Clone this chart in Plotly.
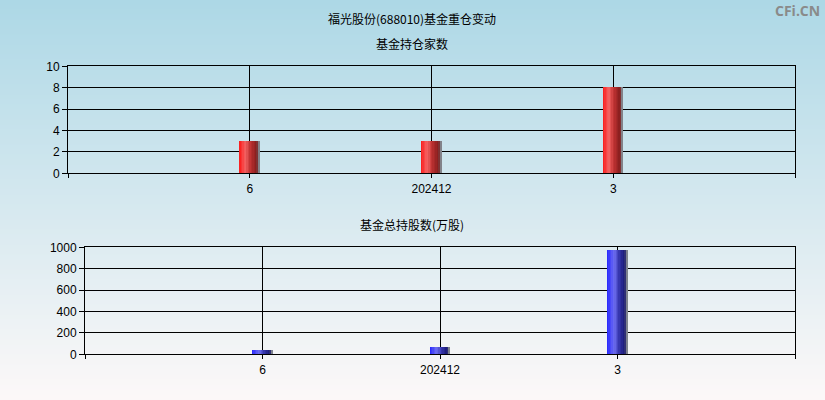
import plotly.graph_objects as go

categories = ["6", "202412", "3"]
fund_counts = [3, 3, 8]
fund_shares = [40, 68, 975]

W, H = 825, 400

def interp(stops, t):
    for (t0, c0), (t1, c1) in zip(stops, stops[1:]):
        if t0 <= t <= t1:
            f = (t - t0) / (t1 - t0) if t1 > t0 else 0
            return "rgb(%d,%d,%d)" % tuple(round(a + (b - a) * f) for a, b in zip(c0, c1))
    return "rgb(%d,%d,%d)" % stops[-1][1]

red_stops = [(0, (250, 25, 25)), (0.3, (245, 100, 100)), (0.55, (190, 50, 50)), (0.88, (130, 28, 28)), (0.93, (120, 110, 115)), (1, (140, 150, 160))]
blue_stops = [(0, (35, 35, 255)), (0.35, (110, 110, 240)), (0.6, (55, 55, 175)), (0.88, (25, 25, 115)), (0.93, (110, 110, 125)), (1, (140, 150, 160))]

fig = go.Figure()
xpos = list(range(1, len(categories) + 1))
N = 14

def add_bars(vals, stops, bw, xa, ya):
    w = bw / N
    for i in range(N):
        fig.add_trace(go.Bar(
            x=xpos, y=vals, width=[w] * len(vals), offset=-bw / 2 + i * w,
            marker=dict(color=interp(stops, (i + 0.5) / N), line=dict(width=0)),
            xaxis=xa, yaxis=ya, showlegend=False,
            hoverinfo="y" if i == N // 2 else "skip",
        ))

add_bars(fund_counts, red_stops, 20 / 182, "x", "y")
add_bars(fund_shares, blue_stops, 20 / 177.5, "x2", "y2")

# background gradient
shapes = []
nb = 80
top, bot = (173, 216, 230), (252, 248, 248)
for i in range(nb):
    t = i / (nb - 1)
    c = tuple(round(a + (b - a) * t) for a, b in zip(top, bot))
    shapes.append(dict(type="rect", xref="paper", yref="paper", x0=0, x1=1,
                       y0=1 - (i + 1) / nb, y1=1 - i / nb + 0.001,
                       fillcolor="rgb(%d,%d,%d)" % c, line=dict(width=0), layer="below"))

tickfont = dict(family="Liberation Sans, Arial", size=12, color="#000")
tv = [0] + xpos + [len(categories) + 1]
tt = [""] + categories + [""]

def xaxis(domain, anchor):
    return dict(domain=domain, anchor=anchor, range=[0, len(categories) + 1], tickvals=tv, ticktext=tt,
                showgrid=True, gridcolor="#000", gridwidth=1, showline=True, linecolor="#000",
                mirror=True, ticks="outside", ticklen=4, tickcolor="#000", tickfont=tickfont,
                zeroline=False, fixedrange=True, automargin=False)

def yaxis(domain, anchor, rng, dtick):
    return dict(domain=domain, anchor=anchor, range=rng, dtick=dtick, showgrid=True, gridcolor="#000",
                gridwidth=1, showline=True, linecolor="#000", mirror=True, ticks="outside", ticklen=5,
                tickcolor="#000", tickfont=tickfont, zeroline=False, fixedrange=True, automargin=False)

cjk = dict(family="Noto Sans CJK SC", size=12, color="#000")

fig.update_layout(
    width=W, height=H, margin=dict(l=0, r=0, t=0, b=0, pad=0, autoexpand=False),
    paper_bgcolor="rgba(0,0,0,0)", plot_bgcolor="rgba(0,0,0,0)",
    barmode="overlay", bargap=0, showlegend=False,
    xaxis=xaxis([68 / W, 795 / W], "y"),
    yaxis=yaxis([1 - 173.3 / H, 1 - 66.3 / H], "x", [0, 10], 2),
    xaxis2=xaxis([85 / W, 795 / W], "y2"),
    yaxis2=yaxis([1 - 354.3 / H, 1 - 247.3 / H], "x2", [0, 1000], 200),
    shapes=shapes,
    annotations=[
        dict(text="福光股份(688010)基金重仓变动", x=412 / W, y=1 - 18 / H, xref="paper", yref="paper",
             yanchor="middle", showarrow=False, font=cjk),
        dict(text="基金持仓家数", x=412 / W, y=1 - 43 / H, xref="paper", yref="paper",
             yanchor="middle", showarrow=False, font=cjk),
        dict(text="基金总持股数(万股)", x=412 / W, y=1 - 224 / H, xref="paper", yref="paper",
             yanchor="middle", showarrow=False, font=cjk),
        dict(text="<b>CFi.CN</b>", x=822 / W, y=1 - 10 / H, xref="paper", yref="paper", xanchor="right",
             yanchor="middle", showarrow=False,
             font=dict(family="Open Sans, Liberation Sans", size=14, color="#8a8a8a")),
    ],
)

fig.write_html("out.html", config={"displayModeBar": False},
               post_script="document.body.style.margin='0';document.body.style.overflow='hidden';")
